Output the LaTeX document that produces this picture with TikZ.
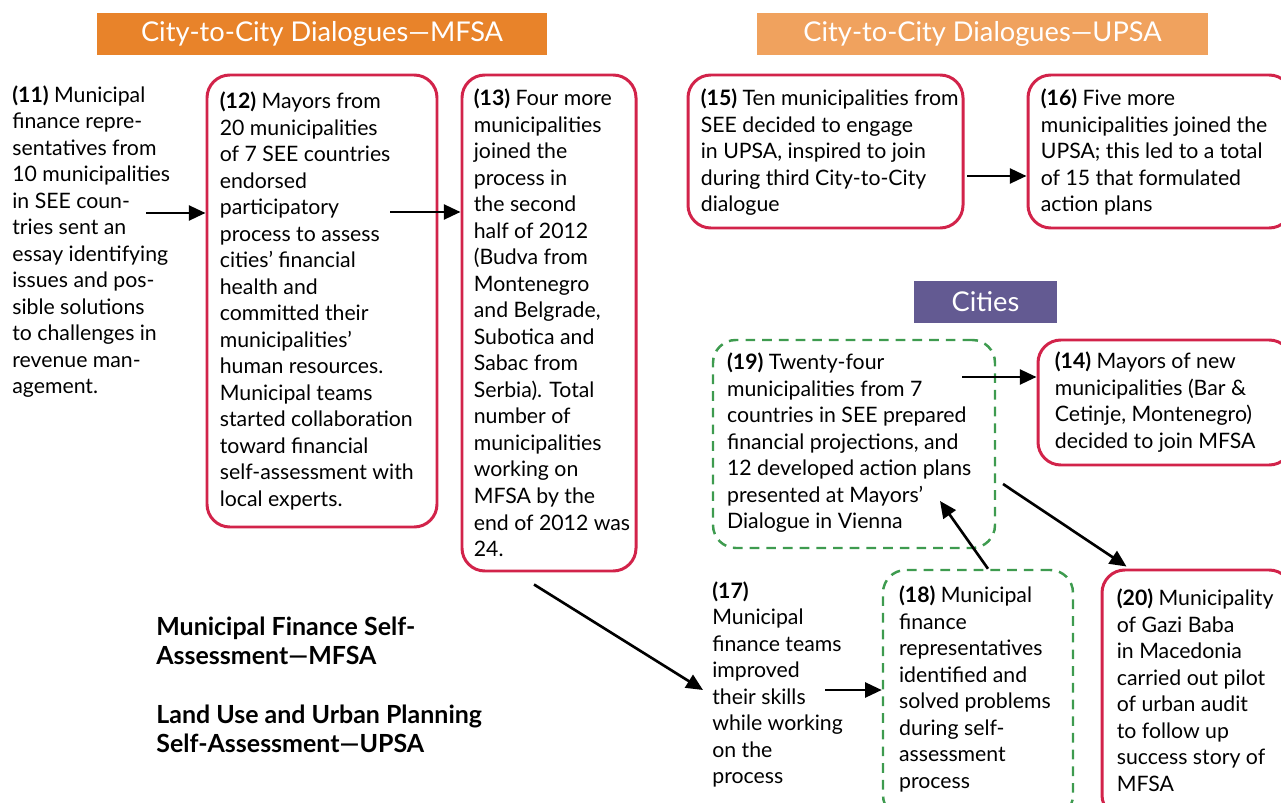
\documentclass[tikz,border=0pt]{standalone}
\usepackage{fontspec}
\setmainfont{Lato}
\newfontfamily\hdrfont{Lato}
\usetikzlibrary{arrows.meta,fit}
\definecolor{mfsaorange}{HTML}{E8832A}
\definecolor{upsaorange}{HTML}{F0A25E}
\definecolor{citypurple}{HTML}{635A92}
\definecolor{boxred}{HTML}{D2234A}
\definecolor{boxgreen}{HTML}{3E9B4F}
\tikzset{
  hdr/.style={fill=#1,text=white,inner sep=0pt,minimum height=0.84cm,font=\hdrfont\fontsize{15.5}{17}\selectfont},
  redbox/.style={draw=boxred,line width=1.7pt,rounded corners=13pt,inner sep=0pt},
  greenbox/.style={draw=boxgreen,line width=1.4pt,dash pattern=on 5.5pt off 4pt,rounded corners=13pt,inner sep=0pt},
  txt/.style={anchor=north west,align=left,inner sep=0pt,font=\fontsize{12.1}{15.1}\selectfont},
  legend/.style={anchor=north west,align=left,inner sep=0pt,font=\hdrfont\bfseries\fontsize{14.2}{16}\selectfont},
  arr/.style={line width=1.5pt,-{Triangle[length=9.5pt,width=8.5pt]}}
}
\begin{document}
\begin{tikzpicture}[x=0.02cm,y=-0.02cm]
	\useasboundingbox (0,0) rectangle (1281,803);
	\clip (0,0) rectangle (1281,803);
	
	% Headers
	\node[hdr=mfsaorange, minimum width=9cm] (h1) at (322,34) {City-to-City Dialogues—MFSA};
	\node[hdr=upsaorange, minimum width=9.02cm] (h2) at (982.5,34) {City-to-City Dialogues—UPSA};
	\node[hdr=citypurple, minimum width=2.86cm] (h3) at (985.5,302) {Cities};
	
	% Frames
	\node[redbox, fit={(207,75) (437,527)}] (b12) {};
	\node[redbox, fit={(462,75) (636,571)}] (b13) {};
	\node[redbox, fit={(688,75) (963,228)}] (b15) {};
	\node[redbox, fit={(1028,75) (1292,228)}] (b16) {};
	\node[greenbox, fit={(713,340) (995,548)}] (b19) {};
	\node[redbox, fit={(1038,340) (1292,465)}] (b14) {};
	\node[greenbox, fit={(883,570) (1073,818)}] (b18) {};
	\node[redbox, fit={(1102,570) (1292,818)}] (b20) {};
	
	% Texts
	\node[txt] (t11) at (12,85) {\textbf{(11)} Municipal\\finance repre-\\sentatives from\\10 municipalities\\in SEE coun-\\tries sent an\\essay identifying\\issues and pos-\\sible solutions\\to challenges in\\revenue man-\\agement.};
	\node[txt] (t12) at ([shift={(14,18)}]b12.north west) {\textbf{(12)} Mayors from\\20 municipalities\\of 7 SEE countries\\endorsed\\participatory\\process to assess\\cities’ financial\\health and\\committed their\\municipalities’\\human resources.\\Municipal teams\\started collaboration\\toward financial\\self-assessment with\\local experts.};
	\node[txt] (t13) at ([shift={(13,15)}]b13.north west) {\textbf{(13)} Four more\\municipalities\\joined the\\process in\\the second\\half of 2012\\(Budva from\\Montenegro\\and Belgrade,\\Subotica and\\Sabac from\\Serbia). Total\\number of\\municipalities\\working on\\MFSA by the\\end of 2012 was\\24.};
	\node[txt] (t15) at ([shift={(14,15)}]b15.north west) {\textbf{(15)} Ten municipalities from\\SEE decided to engage\\in UPSA, inspired to join\\during third City-to-City\\dialogue};
	\node[txt] (t16) at ([shift={(14,15)}]b16.north west) {\textbf{(16)} Five more\\municipalities joined the\\UPSA; this led to a total\\of 15 that formulated\\action plans};
	\node[txt] (t19) at ([shift={(15,14)}]b19.north west) {\textbf{(19)} Twenty-four\\municipalities from 7\\countries in SEE prepared\\financial projections, and\\12 developed action plans\\presented at Mayors’\\Dialogue in Vienna};
	\node[txt] (t14) at ([shift={(18,13)}]b14.north west) {\textbf{(14)} Mayors of new\\municipalities (Bar \&\\Cetinje, Montenegro)\\decided to join MFSA};
	\node[txt] (t17) at (712,581) {\textbf{(17)}\\Municipal\\finance teams\\improved\\their skills\\while working\\on the\\process};
	\node[txt] (t18) at ([shift={(17,17)}]b18.north west) {\textbf{(18)} Municipal\\finance\\representatives\\identified and\\solved problems\\during self-\\assessment\\process};
	\node[txt] (t20) at ([shift={(16,20)}]b20.north west) {\textbf{(20)} Municipality\\of Gazi Baba\\in Macedonia\\carried out pilot\\of urban audit\\to follow up\\success story of\\MFSA};
	
	% Legend
	\node[legend] (l1) at (156,617) {Municipal Finance Self-\\Assessment—MFSA};
	\node[legend] (l2) at (156,705) {Land Use and Urban Planning\\Self-Assessment—UPSA};
	
	% Arrows
	\coordinate (a11) at (146,213);
	\coordinate (a12) at (390,212);
	\coordinate (a15) at (967,176);
	\coordinate (a19) at (962,377);
	\coordinate (c19) at (1003,484);
	\coordinate (h19) at (940,501);
	\coordinate (e17) at (703,690);
	\coordinate (a17) at (825,690);
	\draw[arr] (a11) -- (b12.west |- a11);
	\draw[arr] (a12) -- (b13.west |- a12);
	\draw[arr] (a15) -- (b16.west |- a15);
	\draw[arr] (a19) -- (b14.west |- a19);
	\draw[arr] (c19) -- ([shift={(26,-2)}]b20.north west);
	\draw[arr] ([shift={(10,0)}]b18.north) -- (h19);
	\draw[arr] ([shift={(-15,12)}]b13.south) -- (e17);
	\draw[arr] (a17) -- (b18.west |- a17);
\end{tikzpicture}
\end{document}
